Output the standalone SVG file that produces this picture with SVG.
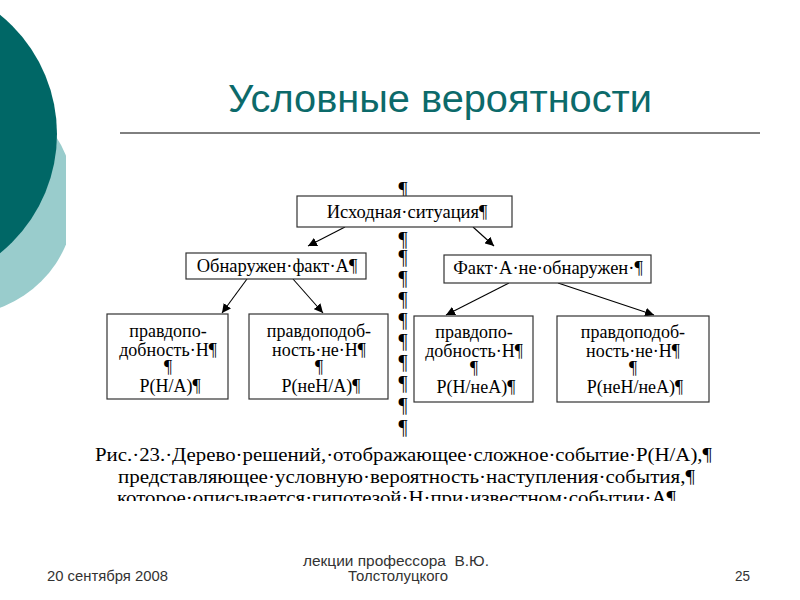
<svg xmlns="http://www.w3.org/2000/svg" width="800" height="600" viewBox="0 0 800 600">
<defs>
<marker id="ah" viewBox="0 0 10 10" refX="10" refY="5" markerWidth="9" markerHeight="9" markerUnits="userSpaceOnUse" orient="auto">
<path d="M0,0 L10,5 L0,10 z" fill="#000"/>
</marker>
<clipPath id="capclip"><rect x="0" y="436" width="800" height="65"/></clipPath>
<clipPath id="lightclip"><rect x="0" y="0" width="66" height="600"/></clipPath>
<style>
.box{fill:#fff;stroke:#333;stroke-width:1.2}
.t{font-family:"Liberation Serif","Times New Roman",serif;font-size:18.5px;fill:#000;text-anchor:middle}
.l{font-family:"Liberation Serif","Times New Roman",serif;font-size:18px;fill:#000;text-anchor:middle}
.p{font-family:"Liberation Serif","Times New Roman",serif;font-size:20px;fill:#000;text-anchor:middle}
.cap{font-family:"Liberation Serif","Times New Roman",serif;font-size:19.5px;fill:#000}
.ft{font-family:"Liberation Sans",Arial,sans-serif;font-size:14px;fill:#333}
.conn line{stroke:#000;stroke-width:1.1;marker-end:url(#ah)}
</style>
</defs>
<rect width="800" height="600" fill="#fff"/>
<!-- decoration -->
<circle cx="-40" cy="200" r="115" fill="#99cccc" clip-path="url(#lightclip)"/>
<circle cx="-96" cy="134" r="153" fill="#006766"/>
<!-- title -->
<text x="228" y="112" font-family="'Liberation Sans',Arial,sans-serif" font-size="38" fill="#0c6a6a" textLength="424" lengthAdjust="spacingAndGlyphs">Условные вероятности</text>
<line x1="120" y1="133" x2="760" y2="133" stroke="#000" stroke-width="1"/>
<!-- pilcrow column -->
<g id="pilcrows" class="p">
<text x="403" y="196">¶</text>
<text x="403" y="246">¶</text>
<text x="403" y="264">¶</text>
<text x="403" y="285">¶</text>
<text x="403" y="306">¶</text>
<text x="403" y="327">¶</text>
<text x="403" y="348">¶</text>
<text x="403" y="369">¶</text>
<text x="403" y="390">¶</text>
<text x="403" y="412">¶</text>
<text x="403" y="434">¶</text>
</g>
<!-- connectors -->
<g id="connectors" class="conn">
<line x1="345" y1="227" x2="308" y2="246"/>
<line x1="473" y1="227" x2="494" y2="246"/>
<line x1="247" y1="279" x2="222" y2="313"/>
<line x1="293" y1="279" x2="323" y2="313"/>
<line x1="509" y1="283" x2="446" y2="315"/>
<line x1="558" y1="283" x2="654" y2="315"/>
</g>
<!-- nodes -->
<g id="root">
<rect class="box" x="297" y="196" width="215" height="31"/>
<text class="t" x="407" y="218">Исходная·ситуация¶</text>
</g>
<g id="factA">
<rect class="box" x="186" y="253" width="180" height="26"/>
<text class="t" x="277" y="272">Обнаружен·факт·А¶</text>
</g>
<g id="notFactA">
<rect class="box" x="444" y="255" width="207" height="28"/>
<text class="t" x="548" y="274">Факт·А·не·обнаружен·¶</text>
</g>
<g id="leaf1">
<rect class="box" x="107" y="314" width="121" height="85"/>
<text class="l" x="168" y="337">правдопо-</text>
<text class="l" x="168" y="356">добность·Н¶</text>
<text class="l" x="168" y="373">¶</text>
<text class="l" x="170" y="392">Р(Н/А)¶</text>
</g>
<g id="leaf2">
<rect class="box" x="249" y="314" width="139" height="85"/>
<text class="l" x="319" y="337">правдоподоб-</text>
<text class="l" x="319" y="356">ность·не·Н¶</text>
<text class="l" x="319" y="373">¶</text>
<text class="l" x="321" y="392">Р(неН/А)¶</text>
</g>
<g id="leaf3">
<rect class="box" x="414" y="316" width="119" height="86"/>
<text class="l" x="474" y="338">правдопо-</text>
<text class="l" x="474" y="357">добность·Н¶</text>
<text class="l" x="474" y="374">¶</text>
<text class="l" x="476" y="393">Р(Н/неА)¶</text>
</g>
<g id="leaf4">
<rect class="box" x="557" y="316" width="152" height="86"/>
<text class="l" x="633" y="338">правдоподоб-</text>
<text class="l" x="633" y="357">ность·не·Н¶</text>
<text class="l" x="633" y="374">¶</text>
<text class="l" x="635" y="393">Р(неН/неА)¶</text>
</g>
<!-- caption -->
<g id="caption" clip-path="url(#capclip)">
<text class="cap" x="95" y="461" textLength="617" lengthAdjust="spacingAndGlyphs">Рис.·23.·Дерево·решений,·отображающее·сложное·событие·Р(Н/А),¶</text>
<text class="cap" x="118" y="483" textLength="577" lengthAdjust="spacingAndGlyphs">представляющее·условную·вероятность·наступления·события,¶</text>
<text class="cap" x="117" y="504" textLength="559" lengthAdjust="spacingAndGlyphs">которое·описывается·гипотезой·Н·при·известном·событии·А¶</text>
</g>
<!-- footer -->
<g id="footer" class="ft">
<text x="47" y="581" textLength="121" lengthAdjust="spacingAndGlyphs">20 сентября 2008</text>
<text x="303" y="566" textLength="186" lengthAdjust="spacingAndGlyphs" xml:space="preserve">лекции профессора  В.Ю.</text>
<text x="348" y="581" textLength="100" lengthAdjust="spacingAndGlyphs">Толстолуцкого</text>
<text x="735" y="581" textLength="15" lengthAdjust="spacingAndGlyphs">25</text>
</g>
</svg>
